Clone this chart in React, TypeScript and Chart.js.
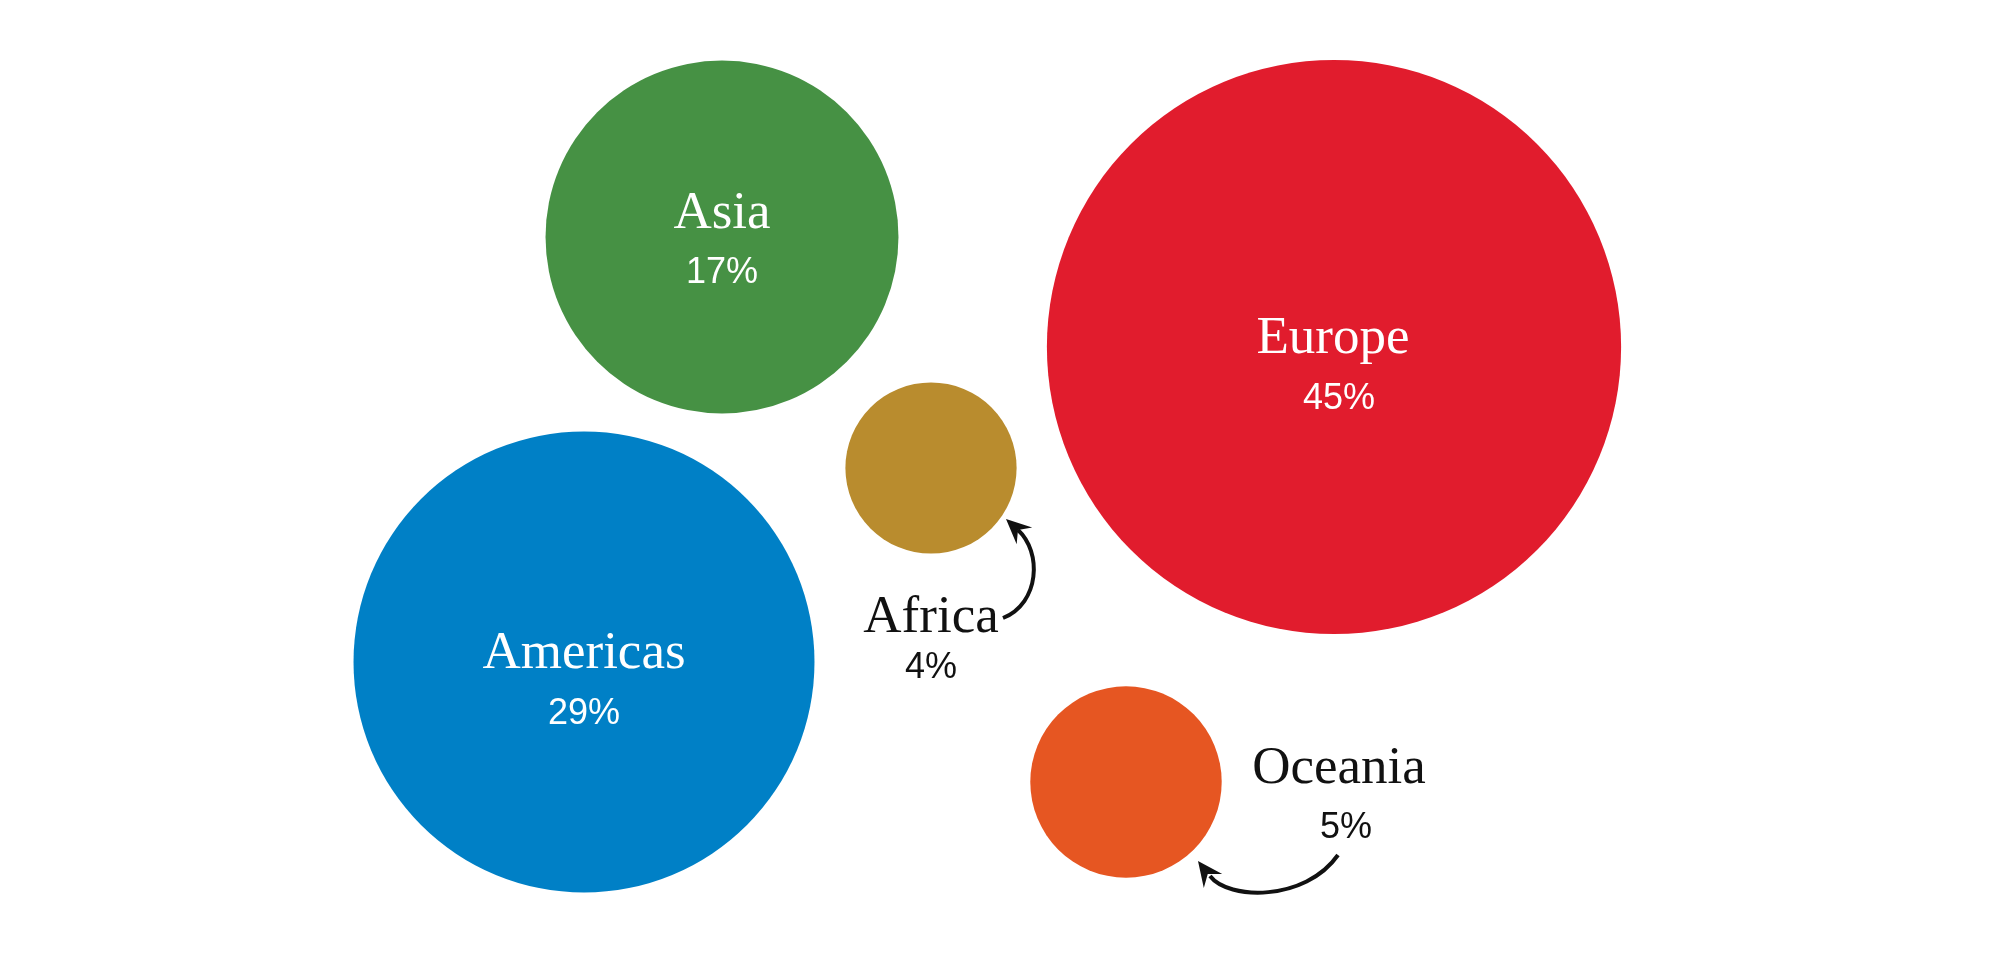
import { useEffect, useRef } from "react";
import { Chart, registerables } from "chart.js";

Chart.register(...registerables);

// ---- Data ----
const regions = ["Asia", "Europe", "Africa", "Americas", "Oceania"];
const shares = [17, 45, 4, 29, 5];
const shareLabels = ["17%", "45%", "4%", "29%", "5%"];
// bubble layout coordinates (data space of the packed layout)
const layoutX = [722, 1334, 931, 584, 1126];
const layoutY = [237, 347, 468, 662, 782];

// ---- Styling / annotation config ----
const colors = ["#469144", "#e11c2d", "#b98c2e", "#0080c6", "#e65622"];
const RADIUS_PER_SQRT_PCT = 42.8;
// label anchors in layout coordinates: [nameX, nameBaselineY, pctX, pctBaselineY]
const labelAnchors: [number, number, number, number][] = [
  [722, 228, 722, 283],
  [1333, 353, 1339, 409],
  [931, 632, 931, 678],
  [584, 668, 584, 724],
  [1339, 783, 1346, 838],
];
const labelInside = [true, true, false, true, false];
// arrows: cubic bezier [p0, p1, p2, p3] then tip, in layout coordinates
const arrows = [
  { pts: [[1003, 618], [1040, 603], [1042, 552], [1018, 530]], tip: [1006, 519] },
  { pts: [[1338, 855], [1305, 902], [1228, 900], [1210, 876]], tip: [1198, 861] },
];

const labelPlugin = {
  id: "bubbleLabels",
  afterDatasetsDraw(chart: any) {
    const ctx = chart.ctx as CanvasRenderingContext2D;
    const xs = chart.scales.x;
    const ys = chart.scales.y;
    const px = (v: number) => xs.getPixelForValue(v);
    const py = (v: number) => ys.getPixelForValue(v);
    ctx.save();
    ctx.textAlign = "center";
    ctx.textBaseline = "alphabetic";
    regions.forEach((name, i) => {
      const [nx, ny, sx, sy] = labelAnchors[i];
      const col = labelInside[i] ? "#ffffff" : "#111111";
      ctx.fillStyle = col;
      ctx.font = '53px "Liberation Serif", "DejaVu Serif", serif';
      ctx.fillText(name, px(nx), py(ny));
      ctx.font = '36px "Liberation Sans", Arial, sans-serif';
      ctx.fillText(shareLabels[i], px(sx), py(sy));
    });
    // arrows
    ctx.strokeStyle = "#111111";
    ctx.fillStyle = "#111111";
    ctx.lineWidth = 4;
    ctx.lineCap = "butt";
    arrows.forEach((a) => {
      const p = a.pts.map(([x, y]) => [px(x), py(y)]);
      ctx.beginPath();
      ctx.moveTo(p[0][0], p[0][1]);
      ctx.bezierCurveTo(p[1][0], p[1][1], p[2][0], p[2][1], p[3][0], p[3][1]);
      ctx.stroke();
      const tx = px(a.tip[0]);
      const ty = py(a.tip[1]);
      let dx = p[3][0] - p[2][0];
      let dy = p[3][1] - p[2][1];
      const len = Math.hypot(dx, dy);
      dx /= len;
      dy /= len;
      const L = 25;
      const W = 11.5;
      const bx = -dx, by = -dy;
      const nxp = -by, nyp = bx;
      ctx.beginPath();
      ctx.moveTo(tx, ty);
      ctx.lineTo(tx + bx * L + nxp * W, ty + by * L + nyp * W);
      ctx.lineTo(tx + bx * L * 0.65, ty + by * L * 0.65);
      ctx.lineTo(tx + bx * L - nxp * W, ty + by * L - nyp * W);
      ctx.closePath();
      ctx.fill();
    });
    ctx.restore();
  },
};

export default function App() {
  const ref = useRef<HTMLCanvasElement | null>(null);
  useEffect(() => {
    document.body.style.margin = "0";
    const canvas = ref.current;
    if (!canvas) return;
    const chart = new Chart(canvas, {
      type: "bubble",
      data: {
        labels: regions,
        datasets: [
          {
            label: "Share",
            data: regions.map((_, i) => ({
              x: layoutX[i],
              y: layoutY[i],
              r: RADIUS_PER_SQRT_PCT * Math.sqrt(shares[i]),
            })),
            backgroundColor: colors,
            borderWidth: 0,
            hoverBorderWidth: 0,
          },
        ],
      },
      options: {
        responsive: false,
        animation: false,
        devicePixelRatio: 1,
        layout: { padding: 0, autoPadding: false },
        plugins: {
          legend: { display: false },
          tooltip: { enabled: false },
        },
        scales: {
          x: { type: "linear", min: 0, max: 2000, display: false },
          y: { type: "linear", min: 0, max: 960, reverse: true, display: false },
        },
        events: [],
      },
      plugins: [labelPlugin],
    });
    return () => chart.destroy();
  }, []);
  return (
    <div style={{ width: 2000, height: 960, background: "#ffffff" }}>
      <canvas ref={ref} width={2000} height={960} style={{ display: "block" }} />
    </div>
  );
}
